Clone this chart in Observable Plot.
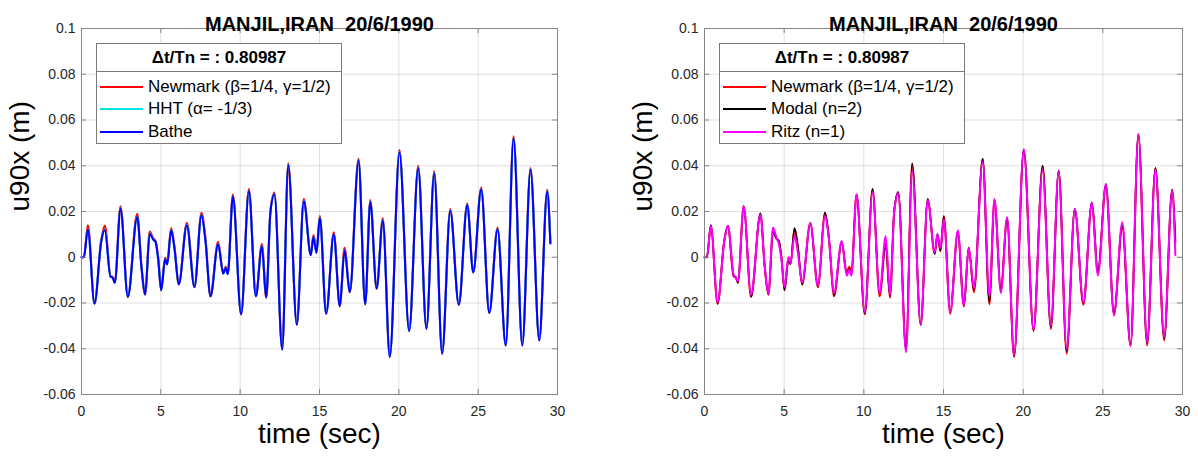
<!DOCTYPE html>
<html><head><meta charset="utf-8">
<script src="https://cdn.jsdelivr.net/npm/d3@7"></script>
<script src="https://cdn.jsdelivr.net/npm/@observablehq/plot@0.6"></script>
<style>
body{margin:0;background:#fff;font-family:"Liberation Sans",Arial,sans-serif}
#wrap{display:flex;width:1198px;height:460px}
.panel{position:relative;width:599px;height:460px}
.panel svg text{white-space:pre}
.legend{position:absolute;background:#fff;border:1px solid #7a7a7a;box-sizing:border-box;color:#000}
.legend .hdr{position:absolute;left:0;right:0;top:0;height:27px;border-bottom:1px solid #7a7a7a;font-weight:bold;font-size:17px;line-height:27px;text-align:center}
.legend .row{position:absolute;left:0;height:22px;font-size:17px;line-height:22px;white-space:nowrap}
.legend .swatch{position:absolute;left:3px;top:10px;width:43px;height:2px}
.legend .lbl{position:absolute;left:51px;top:0}
</style></head>
<body>
<div id="wrap"><div class="panel" id="left"></div><div class="panel" id="right"></div></div>
<script>
// ---- data ----
const time = [
  0, 0.15, 0.40, 0.82, 1.24, 1.47, 1.83, 1.96, 2.10, 2.46,
  2.92, 3.51, 3.78, 4.01, 4.30, 4.52, 4.66, 4.83, 5.02, 5.27,
  5.40, 5.65, 5.86, 6.13, 6.64, 7.12, 7.56, 7.81, 8.13, 8.61,
  8.93, 9.09, 9.22, 9.54, 10.06, 10.55, 10.99, 11.37, 11.64, 11.91,
  12.16, 12.65, 13.03, 13.57, 14.01, 14.45, 14.62, 14.81, 15.02, 15.42,
  15.90, 16.28, 16.58, 16.91, 17.46, 17.88, 18.20, 18.60, 18.99, 19.43,
  20.04, 20.65, 21.22, 21.74, 22.23, 22.73, 23.24, 23.78, 24.31, 24.69,
  25.19, 25.70, 26.22, 26.74, 27.23, 27.78, 28.30, 28.85, 29.35, 29.55
];
const newmark = [
  0, 0, 0.0140, -0.0204, 0.0072, 0.0138, -0.0084, -0.0086, -0.0110, 0.0223,
  -0.0174, 0.0190, -0.0040, -0.0164, 0.0112, 0.0082, 0.0072, 0.0000, -0.0145, -0.0003,
  -0.0028, 0.0127, 0.0045, -0.0119, 0.0150, -0.0131, 0.0194, 0.0082, -0.0171, 0.0067,
  -0.0068, -0.0042, -0.0070, 0.0274, -0.0250, 0.0298, -0.0171, 0.0058, -0.0177, 0.0205,
  0.0283, -0.0404, 0.0410, -0.0295, 0.0254, 0.0015, 0.0097, 0.0025, 0.0180, -0.0247,
  0.0109, -0.0215, 0.0041, -0.0153, 0.0430, -0.0206, 0.0250, -0.0138, 0.0170, -0.0436,
  0.0468, -0.0323, 0.0400, -0.0313, 0.0375, -0.0422, 0.0210, -0.0208, 0.0235, -0.0067,
  0.0305, -0.0244, 0.0130, -0.0386, 0.0528, -0.0386, 0.0390, -0.0364, 0.0295, 0.0065
];
const hht = [
  0, 0, 0.0124, -0.0202, 0.0068, 0.0122, -0.0086, -0.0088, -0.0112, 0.0215,
  -0.0173, 0.0178, -0.0045, -0.0163, 0.0105, 0.0078, 0.0068, -0.0005, -0.0144, -0.0008,
  -0.0031, 0.0120, 0.0039, -0.0118, 0.0142, -0.0130, 0.0186, 0.0075, -0.0170, 0.0059,
  -0.0071, -0.0047, -0.0073, 0.0266, -0.0249, 0.0290, -0.0170, 0.0050, -0.0176, 0.0199,
  0.0276, -0.0403, 0.0404, -0.0294, 0.0247, 0.0010, 0.0091, 0.0020, 0.0174, -0.0246,
  0.0101, -0.0214, 0.0033, -0.0152, 0.0423, -0.0205, 0.0244, -0.0137, 0.0162, -0.0435,
  0.0460, -0.0322, 0.0392, -0.0312, 0.0368, -0.0421, 0.0204, -0.0207, 0.0229, -0.0066,
  0.0298, -0.0243, 0.0123, -0.0385, 0.0521, -0.0385, 0.0385, -0.0363, 0.0288, 0.0061
];
const bathe = [
  0, 0, 0.0121, -0.0202, 0.0067, 0.0119, -0.0086, -0.0088, -0.0112, 0.0213,
  -0.0173, 0.0176, -0.0045, -0.0163, 0.0103, 0.0077, 0.0067, -0.0006, -0.0144, -0.0009,
  -0.0032, 0.0118, 0.0038, -0.0118, 0.0140, -0.0130, 0.0184, 0.0074, -0.0170, 0.0057,
  -0.0072, -0.0048, -0.0074, 0.0264, -0.0249, 0.0288, -0.0170, 0.0048, -0.0176, 0.0198,
  0.0274, -0.0403, 0.0402, -0.0294, 0.0245, 0.0009, 0.0089, 0.0019, 0.0172, -0.0246,
  0.0099, -0.0214, 0.0031, -0.0152, 0.0421, -0.0205, 0.0242, -0.0137, 0.0160, -0.0435,
  0.0458, -0.0322, 0.0390, -0.0312, 0.0366, -0.0421, 0.0202, -0.0207, 0.0227, -0.0066,
  0.0296, -0.0243, 0.0121, -0.0385, 0.0519, -0.0385, 0.0383, -0.0363, 0.0286, 0.0060
];
const modal = [
  0, 0, 0.0140, -0.0203, 0.0072, 0.0138, -0.0082, -0.0088, -0.0112, 0.0224,
  -0.0172, 0.0192, -0.0042, -0.0162, 0.0110, 0.0080, 0.0072, -0.0002, -0.0142, -0.0015,
  -0.0030, 0.0127, 0.0045, -0.0120, 0.0150, -0.0128, 0.0195, 0.0082, -0.0165, 0.0068,
  -0.0075, -0.0050, -0.0072, 0.0274, -0.0245, 0.0298, -0.0160, 0.0060, -0.0170, 0.0205,
  0.0285, -0.0405, 0.0410, -0.0296, 0.0254, 0.0015, 0.0102, 0.0030, 0.0178, -0.0240,
  0.0110, -0.0212, 0.0042, -0.0140, 0.0430, -0.0195, 0.0252, -0.0150, 0.0170, -0.0432,
  0.0470, -0.0318, 0.0400, -0.0305, 0.0380, -0.0410, 0.0212, -0.0200, 0.0240, -0.0060,
  0.0320, -0.0250, 0.0140, -0.0385, 0.0540, -0.0375, 0.0390, -0.0355, 0.0295, 0.0070
];
const ritz = [
  0, 0, 0.0135, -0.0197, 0.0070, 0.0138, -0.0076, -0.0090, -0.0105, 0.0223,
  -0.0163, 0.0186, -0.0040, -0.0159, 0.0130, 0.0085, 0.0060, -0.0010, -0.0130, 0.0000,
  -0.0025, 0.0095, 0.0020, -0.0110, 0.0147, -0.0124, 0.0180, 0.0080, -0.0156, 0.0071,
  -0.0080, -0.0055, -0.0080, 0.0274, -0.0240, 0.0284, -0.0156, 0.0092, -0.0163, 0.0200,
  0.0280, -0.0415, 0.0376, -0.0294, 0.0249, 0.0022, 0.0099, 0.0040, 0.0165, -0.0240,
  0.0118, -0.0211, 0.0040, -0.0134, 0.0416, -0.0170, 0.0255, -0.0156, 0.0175, -0.0428,
  0.0473, -0.0316, 0.0380, -0.0298, 0.0376, -0.0400, 0.0211, -0.0197, 0.0237, -0.0080,
  0.0320, -0.0255, 0.0153, -0.0389, 0.0539, -0.0370, 0.0383, -0.0349, 0.0291, 0.0010
];
const xTicks = [0, 5, 10, 15, 20, 25, 30];
const yTicks = [-0.06, -0.04, -0.02, 0, 0.02, 0.04, 0.06, 0.08, 0.1];
const chartTitle = "MANJIL,IRAN  20/6/1990";
const xLabel = "time (sec)";
const yLabel = "u90x (m)";
const legendHeader = "Δt/Tn = : 0.80987";
const leftNames = ["Newmark (β=1/4, γ=1/2)", "HHT (α= -1/3)", "Bathe"];
const rightNames = ["Newmark (β=1/4, γ=1/2)", "Modal (n=2)", "Ritz (n=1)"];

// ---- styling ----
const FONT = '"Liberation Sans", Arial, Helvetica, sans-serif';
const leftSeries = [
  {name: leftNames[0], values: newmark, color: "#ff0000", width: 2.2},
  {name: leftNames[1], values: hht, color: "#00e6e6", width: 2},
  {name: leftNames[2], values: bathe, color: "#0000ff", width: 2}
];
const rightSeries = [
  {name: rightNames[0], values: newmark, color: "#ff0000", width: 2},
  {name: rightNames[1], values: modal, color: "#000000", width: 1.6},
  {name: rightNames[2], values: ritz, color: "#ff00ff", width: 2}
];
// keep the double space visible in SVG text
const titleShown = chartTitle.replace(/  /g, " \u00a0");

function panel(el, series, marginLeft, marginRight) {
  const width = 599, height = 460, marginTop = 28, marginBottom = 66;
  const innerW = width - marginLeft - marginRight;
  const innerH = height - marginTop - marginBottom;
  const fmt = d => String(+d.toFixed(2));
  const boxColor = "#858585";
  const marks = [
    Plot.gridX(xTicks, {x: d => d, stroke: "#262626", strokeOpacity: 0.14}),
    Plot.gridY(yTicks, {y: d => d, stroke: "#262626", strokeOpacity: 0.14}),
    ...series.map(s => Plot.line(time.map((t, i) => ({t, v: s.values[i]})),
      {x: "t", y: "v", stroke: s.color, strokeWidth: s.width, curve: "monotone-x"})),
    Plot.frame({stroke: boxColor}),
    Plot.tickY(yTicks, {y: d => d, insetRight: innerW - 5, stroke: boxColor}),
    Plot.tickY(yTicks, {y: d => d, insetLeft: innerW - 5, stroke: boxColor}),
    Plot.tickX(xTicks, {x: d => d, insetTop: innerH - 5, stroke: boxColor}),
    Plot.tickX(xTicks, {x: d => d, insetBottom: innerH - 5, stroke: boxColor}),
    Plot.axisX({ticks: xTicks, tickSize: 0, tickPadding: 12, fontSize: 14, label: null, tickFormat: fmt, color: "#262626"}),
    Plot.axisY({ticks: yTicks, tickSize: 0, tickPadding: 6, fontSize: 14, label: null, tickFormat: fmt, color: "#262626"}),
    Plot.text([yLabel], {frameAnchor: "left", rotate: -90, dx: -61, fontSize: 28, text: d => d, fill: "#000"}),
    Plot.text([xLabel], {frameAnchor: "bottom", dy: 48, fontSize: 28, text: d => d, fill: "#000"}),
    Plot.text([titleShown], {frameAnchor: "top", dy: -12, fontSize: 20, fontWeight: "bold", text: d => d, fill: "#000"})
  ];
  const svg = Plot.plot({
    width, height, marginLeft, marginRight, marginTop, marginBottom,
    x: {domain: [0, 30]}, y: {domain: [-0.06, 0.1]},
    style: {fontFamily: FONT, background: "white", overflow: "visible"},
    marks
  });
  el.appendChild(svg);

  // legend box inside the axes
  const lg = document.createElement("div");
  lg.className = "legend";
  lg.style.left = (marginLeft + 15) + "px";
  lg.style.top = (marginTop + 15) + "px";
  lg.style.width = "246px";
  lg.style.height = "101px";
  const hdr = document.createElement("div");
  hdr.className = "hdr";
  hdr.textContent = legendHeader;
  lg.appendChild(hdr);
  series.forEach((s, i) => {
    const row = document.createElement("div");
    row.className = "row";
    row.style.top = (31.7 + 22.4 * i) + "px";
    row.style.width = "240px";
    const sw = document.createElement("div");
    sw.className = "swatch";
    sw.style.background = s.color;
    const lb = document.createElement("span");
    lb.className = "lbl";
    lb.textContent = s.name;
    row.appendChild(sw); row.appendChild(lb);
    lg.appendChild(row);
  });
  el.appendChild(lg);
}

panel(document.getElementById("left"), leftSeries, 81, 42);
panel(document.getElementById("right"), rightSeries, 105, 16);
</script>
</body></html>
